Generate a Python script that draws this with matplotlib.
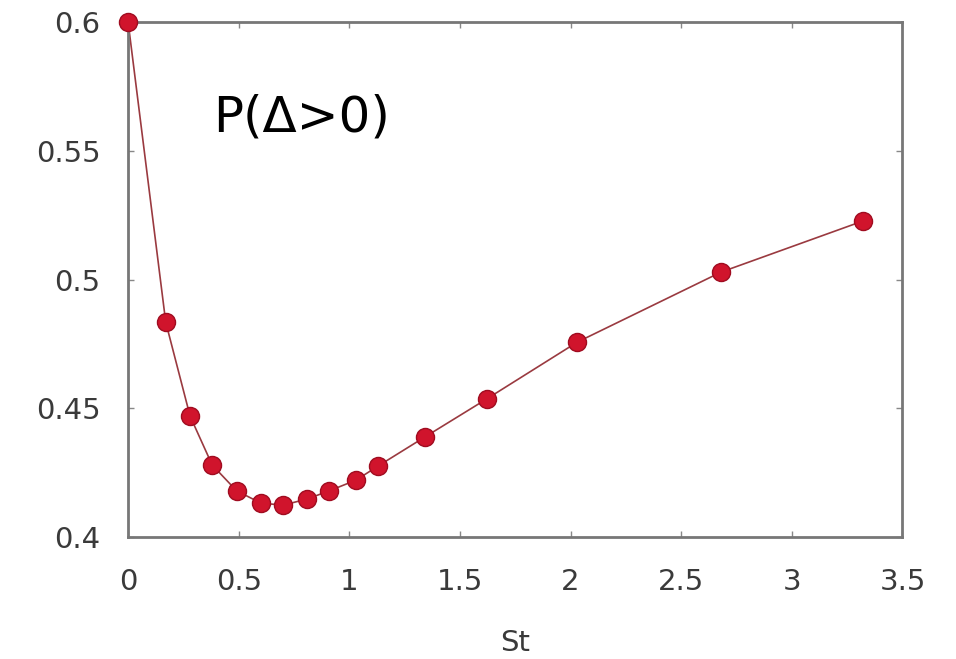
import numpy as np
import matplotlib
matplotlib.use("Agg")
import matplotlib.pyplot as plt

# St values and measured probability P(Delta > 0)
st = [0.0, 0.17, 0.28, 0.38, 0.49, 0.60, 0.70, 0.81, 0.91, 1.03, 1.13,
      1.34, 1.62, 2.03, 2.68, 3.32]
p_pos = [0.600, 0.4835, 0.447, 0.428, 0.418, 0.4132, 0.4124, 0.4148, 0.418,
         0.4221, 0.4276, 0.4388, 0.4536, 0.4757, 0.5029, 0.5227]

xticks = [0, 0.5, 1, 1.5, 2, 2.5, 3, 3.5]
xtick_labels = ["0", "0.5", "1", "1.5", "2", "2.5", "3", "3.5"]
yticks = [0.4, 0.45, 0.5, 0.55, 0.6]
ytick_labels = ["0.4", "0.45", "0.5", "0.55", "0.6"]

fig = plt.figure(figsize=(9.56, 6.59), dpi=100)
ax = fig.add_axes([0.134, 0.185, 0.81, 0.7815])

ax.plot(st, p_pos, '-', color='#9a3a40', linewidth=1.2, clip_on=False, zorder=2)
ax.plot(st, p_pos, 'o', color='#d0142c', markeredgecolor='#a00c20',
        markersize=13, markeredgewidth=1.0, clip_on=False, zorder=3)

ax.set_xlim(0, 3.5)
ax.set_ylim(0.4, 0.6)
ax.set_xticks(xticks)
ax.set_xticklabels(xtick_labels)
ax.set_yticks(yticks)
ax.set_yticklabels(ytick_labels)

for s in ax.spines.values():
    s.set_color('#777777')
    s.set_linewidth(2)

ax.tick_params(direction='in', length=4, width=1, color='#888888',
               top=True, right=True, labelsize=21, labelcolor='#3a3a3a', pad=20)
ax.tick_params(axis='x', pad=22)
ax.set_xlabel("St", fontsize=21, color='#3a3a3a', labelpad=24)

ax.text(0.11, 0.815, "P(Δ>0)", transform=ax.transAxes, fontsize=36,
        color='black', ha='left', va='center')

fig.savefig("out.png", dpi=100)
